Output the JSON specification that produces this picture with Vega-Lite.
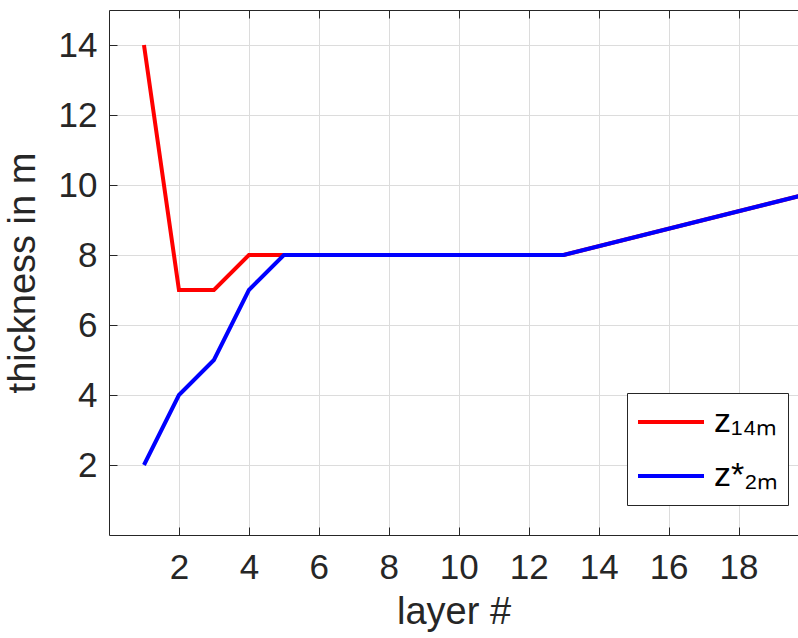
{
  "$schema": "https://vega.github.io/schema/vega-lite/v6.json",
  "width": 689,
  "height": 525,
  "autosize": {"type": "none"},
  "padding": {"left": 109, "top": 10, "right": 0, "bottom": 103},
  "background": "white",
  "config": {
    "view": {"stroke": null},
    "font": "Liberation Sans",
    "axis": {
      "domainColor": "#262626",
      "domainWidth": 1,
      "tickColor": "#262626",
      "tickSize": -8,
      "tickWidth": 1,
      "labelColor": "#262626",
      "labelFont": "Liberation Sans",
      "labelFontSize": 35,
      "titleFont": "Liberation Sans",
      "titleFontSize": 38,
      "titleFontWeight": "normal",
      "titleColor": "#262626",
      "gridColor": "#dcdcdc",
      "gridWidth": 1
    }
  },
  "data": {
    "values": [
      {"layer": 1, "thickness": 14, "s": "z₁₄ₘ"},
      {"layer": 2, "thickness": 7, "s": "z₁₄ₘ"},
      {"layer": 3, "thickness": 7, "s": "z₁₄ₘ"},
      {"layer": 4, "thickness": 8, "s": "z₁₄ₘ"},
      {"layer": 5, "thickness": 8, "s": "z₁₄ₘ"},
      {"layer": 13, "thickness": 8, "s": "z₁₄ₘ"},
      {"layer": 20, "thickness": 9.75, "s": "z₁₄ₘ"},
      {"layer": 1, "thickness": 2, "s": "z*₂ₘ"},
      {"layer": 2, "thickness": 4, "s": "z*₂ₘ"},
      {"layer": 3, "thickness": 5, "s": "z*₂ₘ"},
      {"layer": 4, "thickness": 7, "s": "z*₂ₘ"},
      {"layer": 5, "thickness": 8, "s": "z*₂ₘ"},
      {"layer": 13, "thickness": 8, "s": "z*₂ₘ"},
      {"layer": 20, "thickness": 9.75, "s": "z*₂ₘ"}
    ]
  },
  "layer": [
    {
      "transform": [{"filter": "datum.s == 'z₁₄ₘ'"}],
      "mark": {"type": "line", "strokeWidth": 4, "clip": true},
      "encoding": {
        "x": {
          "field": "layer", "type": "quantitative",
          "scale": {"domain": [0, 19.7], "nice": false, "zero": false},
          "axis": {"orient": "top", "values": [2,4,6,8,10,12,14,16,18], "labels": false, "title": null, "grid": false}
        },
        "y": {
          "field": "thickness", "type": "quantitative",
          "scale": {"domain": [0, 15], "nice": false},
          "axis": {"values": [2,4,6,8,10,12,14], "title": "thickness in m", "labelPadding": 20, "titlePadding": 16, "grid": true}
        },
        "color": {
          "field": "s", "type": "nominal",
          "scale": {"domain": ["z₁₄ₘ", "z*₂ₘ"], "range": ["#ff0000", "#0000ff"]},
          "legend": {
            "title": null,
            "orient": "none",
            "legendX": 518,
            "legendY": 383,
            "symbolType": "stroke",
            "symbolStrokeWidth": 4,
            "symbolSize": 4356,
            "clipHeight": 40,
            "labelFont": "Liberation Sans",
            "labelFontSize": 34,
            "labelOffset": 8,
            "labelColor": "black",
            "labelLimit": 0,
            "rowPadding": 14,
            "padding": 9,
            "strokeColor": "#262626",
            "fillColor": "white",
            "cornerRadius": 0
          }
        }
      }
    },
    {
      "transform": [{"filter": "datum.s == 'z*₂ₘ'"}],
      "mark": {"type": "line", "strokeWidth": 4, "clip": true},
      "encoding": {
        "x": {
          "field": "layer", "type": "quantitative",
          "axis": {"orient": "bottom", "values": [2,4,6,8,10,12,14,16,18], "title": "layer #", "labelPadding": 23, "titlePadding": 8, "grid": true}
        },
        "y": {"field": "thickness", "type": "quantitative"},
        "color": {"field": "s", "type": "nominal"}
      }
    }
  ],
  "resolve": {"axis": {"x": "independent"}}
}
